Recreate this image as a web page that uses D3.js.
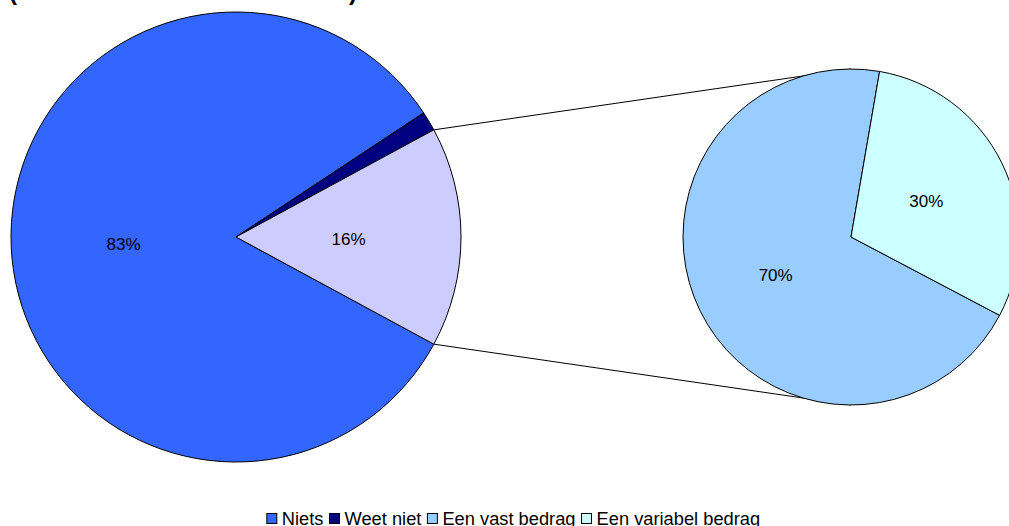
<!DOCTYPE html>
<html>
<head>
<meta charset="utf-8">
<script src="https://cdn.jsdelivr.net/npm/d3@7"></script>
<style>
  html, body { margin: 0; padding: 0; background: #fff; }
  svg { display: block; font-family: "Liberation Sans", Arial, sans-serif; }
</style>
</head>
<body>
<svg id="chart" width="1009" height="526"></svg>
<script>
// Main pie: answers, the last slice ("Een bedrag") is split out in the second pie
const mainCategories = ["Niets", "Weet niet", "Een bedrag"];
const mainValues = [82.8, 1.4, 15.8];
const mainLabels = ["83%", "", "16%"];

// Second pie: breakdown of the split-out slice
const subCategories = ["Een vast bedrag", "Een variabel bedrag"];
const subValues = [70, 30];
const subLabels = ["70%", "30%"];

const legendLabels = ["Niets", "Weet niet", "Een vast bedrag", "Een variabel bedrag"];
const colors = ["#3366FF", "#000080", "#99CCFF", "#CCFFFF"];
const mainColors = ["#3366FF", "#000080", "#CCCCFF"];
const subColors = ["#99CCFF", "#CCFFFF"];

const svg = d3.select("#chart");

// Title (sits mostly above the top edge)
svg.append("text")
  .attr("x", 9).attr("y", -0.5)
  .attr("textLength", 348).attr("lengthAdjust", "spacingAndGlyphs")
  .style("font-weight", "bold").style("font-size", "24px")
  .text("(aandeel van alle werknemers)");

const main = { cx: 236, cy: 237, r: 225 };
const sub = { cx: 851, cy: 237, r: 168 };

const rad = d => d * Math.PI / 180;

// Main pie: split slice centred on the right-hand side
const total = d3.sum(mainValues);
const splitAngle = mainValues[2] / total * 2 * Math.PI;
const start = Math.PI / 2 + splitAngle / 2;
const mainPie = d3.pie().sort(null).value(d => d).startAngle(start).endAngle(start + 2 * Math.PI);
const mainArcs = mainPie(mainValues);
const mainArc = d3.arc().innerRadius(0).outerRadius(main.r);

// Second pie
const subStart = rad(117.8);
const subPie = d3.pie().sort(null).value(d => d).startAngle(subStart).endAngle(subStart + 2 * Math.PI);
const subArcs = subPie(subValues);
const subArc = d3.arc().innerRadius(0).outerRadius(sub.r);

// Connector lines from the split slice edges to top/bottom of the second pie
const split = mainArcs[2];
const edge = a => [main.cx + main.r * Math.sin(a), main.cy - main.r * Math.cos(a)];
const pTop = edge(split.startAngle);
const pBot = edge(split.endAngle);
svg.append("line")
  .attr("x1", pTop[0]).attr("y1", pTop[1])
  .attr("x2", sub.cx).attr("y2", sub.cy - sub.r)
  .attr("stroke", "#000").attr("stroke-width", 1);
svg.append("line")
  .attr("x1", pBot[0]).attr("y1", pBot[1])
  .attr("x2", sub.cx).attr("y2", sub.cy + sub.r)
  .attr("stroke", "#000").attr("stroke-width", 1);

const gMain = svg.append("g").attr("transform", `translate(${main.cx},${main.cy})`);
gMain.selectAll("path").data(mainArcs).join("path")
  .attr("d", mainArc)
  .attr("fill", (d, i) => mainColors[i])
  .attr("stroke", "#000").attr("stroke-width", 1).attr("stroke-linejoin", "round");

gMain.selectAll("text.lbl").data(mainArcs.filter((d, i) => mainLabels[i] !== "")).join("text")
  .attr("class", "lbl")
  .attr("x", d => Math.sin((d.startAngle + d.endAngle) / 2) * main.r * 0.5)
  .attr("y", d => -Math.cos((d.startAngle + d.endAngle) / 2) * main.r * 0.5)
  .attr("dy", "0.45em")
  .attr("text-anchor", "middle")
  .style("font-size", "17px")
  .text(d => mainLabels[d.index]);

const gSub = svg.append("g").attr("transform", `translate(${sub.cx},${sub.cy})`);
gSub.selectAll("path").data(subArcs).join("path")
  .attr("d", subArc)
  .attr("fill", (d, i) => subColors[i])
  .attr("stroke", "#000").attr("stroke-width", 1).attr("stroke-linejoin", "round");

gSub.selectAll("text").data(subArcs).join("text")
  .attr("x", d => Math.sin((d.startAngle + d.endAngle) / 2) * sub.r * 0.5)
  .attr("y", d => -Math.cos((d.startAngle + d.endAngle) / 2) * sub.r * 0.5)
  .attr("dy", "0.42em")
  .attr("text-anchor", "middle")
  .style("font-size", "17px")
  .text(d => subLabels[d.index]);

// Legend
const legend = svg.append("g");
const items = legend.selectAll("g").data(legendLabels).join("g");
items.append("rect")
  .attr("width", 10).attr("height", 10)
  .attr("y", -11)
  .attr("fill", (d, i) => colors[i])
  .attr("stroke", "#000").attr("stroke-width", 1);
items.append("text")
  .attr("x", 15).attr("y", 0)
  .style("font-size", "18.3px")
  .text(d => d);
let x = 0;
const gap = 6;
items.each(function () {
  const w = 15 + this.querySelector("text").getComputedTextLength();
  d3.select(this).attr("transform", `translate(${x},0)`);
  x += w + gap;
});
const legendWidth = x - gap;
legend.attr("transform", `translate(${513 - legendWidth / 2 + 0.5},524.5)`);
</script>
</body>
</html>
